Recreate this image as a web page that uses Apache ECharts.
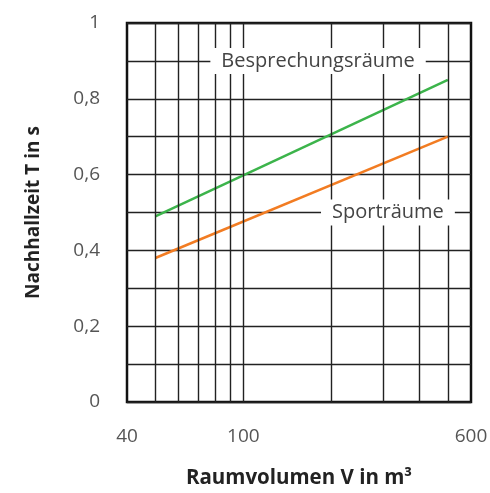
<!DOCTYPE html>
<html><head><meta charset="utf-8">
<script src="https://cdn.jsdelivr.net/npm/echarts@6/dist/echarts.min.js"></script>
<style>html,body{margin:0;padding:0;background:#fff}#c{width:490px;height:493px}</style>
</head><body><div id="c"></div>
<script>
const volumes = [50, 500];
const besprechungsraeume = [0.49, 0.85];
const sportraeume = [0.38, 0.70];
const xTickLabels = [40, 100, 600];
const xGridValues = [50, 60, 70, 80, 90, 100, 200, 300, 400, 500];
const seriesNames = ['Besprechungsräume', 'Sporträume'];
const labelAnchors = [[180, 0.9], [312, 0.5]];

const FONT = 'Open Sans';
const chart = echarts.init(document.getElementById('c'), null, {renderer: 'canvas'});

function pairs(xs, ys) { return xs.map((x, i) => [x, ys[i]]); }

chart.setOption({
  animation: false,
  backgroundColor: '#fff',
  grid: {left: 127, right: 19, top: 23, bottom: 91, outerBoundsMode: 'none', containLabel: false,
         show: true, borderColor: '#111', borderWidth: 2.5, backgroundColor: 'transparent'},
  xAxis: {
    type: 'log', logBase: 10, min: 40, max: 600,
    name: 'Raumvolumen V in m³', nameLocation: 'middle', nameGap: 66,
    nameTextStyle: {fontFamily: FONT, fontSize: 20.5, fontWeight: 'bold', color: '#222'},
    axisLine: {show: false}, axisTick: {show: false}, splitLine: {show: false},
    axisLabel: {customValues: xTickLabels, fontFamily: FONT, fontSize: 19, color: '#555', margin: 25, showMinLabel: true, showMaxLabel: true}
  },
  yAxis: {
    type: 'value', min: 0, max: 1, interval: 0.1,
    name: 'Nachhallzeit T in s', nameLocation: 'middle', nameGap: 84,
    nameTextStyle: {fontFamily: FONT, fontSize: 19, fontWeight: 'bold', color: '#222'},
    axisLine: {show: false}, axisTick: {show: false},
    splitLine: {show: true, lineStyle: {color: '#222', width: 1.4}},
    axisLabel: {
      fontFamily: FONT, fontSize: 19, color: '#555', margin: 27,
      formatter: v => {
        const r = Math.round(v * 10);
        if (r % 2) return '';
        if (r === 0) return '0';
        if (r === 10) return '1';
        return (r / 10).toFixed(1).replace('.', ',');
      }
    }
  },
  series: [
    {
      type: 'line', name: 'grid', data: [], silent: true, z: 1,
      markLine: {
        silent: true, symbol: 'none', label: {show: false},
        lineStyle: {color: '#222', width: 1.4, type: 'solid'},
        data: xGridValues.map(v => ({xAxis: v}))
      }
    },
    {
      type: 'line', name: seriesNames[0], data: pairs(volumes, besprechungsraeume), showSymbol: false, z: 3,
      lineStyle: {color: '#3cb44b', width: 2.5}
    },
    {
      type: 'line', name: seriesNames[1], data: pairs(volumes, sportraeume), showSymbol: false, z: 3,
      lineStyle: {color: '#f27c22', width: 2.5}
    },
    {
      type: 'scatter', name: 'labels', symbolSize: 1, itemStyle: {color: 'rgba(0,0,0,0)', opacity: 1}, z: 5, silent: true,
      data: labelAnchors.map((p, i) => ({value: p, name: seriesNames[i]})),
      label: {
        show: true, position: 'inside', formatter: p => p.name,
        fontFamily: FONT, fontSize: 20, color: '#444', opacity: 1,
        backgroundColor: '#ffffff', padding: [3, 11, 3, 11]
      }
    }
  ]
});
</script></body></html>
